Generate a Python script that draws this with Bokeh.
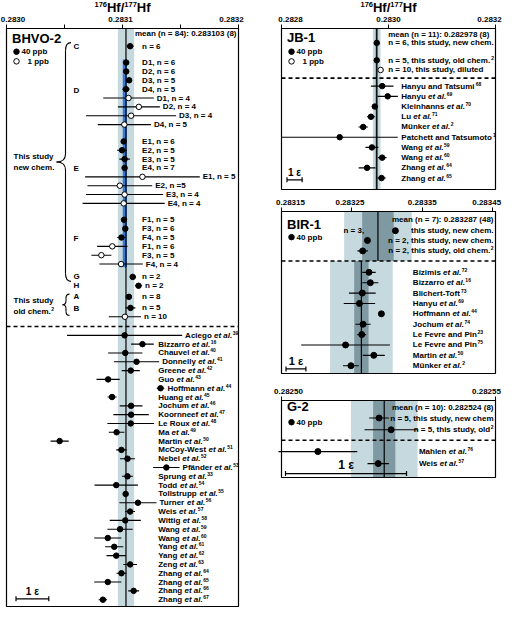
from bokeh.plotting import figure
from bokeh.layouts import row, column
from bokeh.models import (Range1d, FixedTicker, LinearAxis, BoxAnnotation,
                          ColumnDataSource)
from bokeh.core.properties import value
from bokeh.embed import file_html
from bokeh.resources import INLINE

# ------------------------------------------------------------------ data
EPS_UNIT = 0.282785e-4          # 1 epsilon unit (CHUR x 1e-4)
TITLE_PARTS = [("176", True), ("Hf/", False), ("177", True), ("Hf", False)]

# BHVO-2
BHVO_TICKS = [0.2830, 0.2831, 0.2832]
BHVO_MINOR = [0.28305, 0.28315]
BHVO_TICK_LABELS = ["0.2830", "0.2831", "0.2832"]
BHVO_MEAN = 0.283103
BHVO_SD = 0.000007
BHVO_MEAN_TEXT = "mean (n = 84): 0.283103 (8)"
BHVO_NEW_MEAN = 0.283102
BHVO_NEW_ERR = 0.0000018
BHVO_GROUP = ["C"] + ["D"] * 8 + ["E"] * 8 + ["F"] * 6 + ["G", "H", "A", "B", "B"]
BHVO_LABEL = ["n = 6",
              "D1, n = 6", "D2, n = 6", "D3, n = 5", "D4, n = 5",
              "D1, n = 4", "D2, n = 4", "D3, n = 4", "D4, n = 5",
              "E1, n = 6", "E2, n = 5", "E3, n = 5", "E4, n = 7",
              "E1, n = 5", "E2, n =5", "E3, n = 4", "E4, n = 4",
              "F1, n = 5", "F3, n = 6", "F4, n = 5",
              "F1, n = 6", "F3, n = 5", "F4, n = 4",
              "n = 2", "n = 2", "n = 8", "n = 5", "n = 10"]
BHVO_PPB = [40, 40, 40, 40, 40, 1, 1, 1, 1, 40, 40, 40, 40, 1, 1, 1, 1,
            40, 40, 40, 1, 1, 1, 40, 40, 40, 40, 1]
BHVO_VAL = [0.2831066, 0.2831032, 0.2831032, 0.2831057, 0.2831030,
            0.2831052, 0.2831141, 0.2831074, 0.2831016,
            0.2831010, 0.2830996, 0.2831018, 0.2831018,
            0.2831172, 0.2830977, 0.2831018, 0.2831010,
            0.2831013, 0.2831024, 0.2830991,
            0.2830912, 0.2830818, 0.2830988,
            0.2831088, 0.2831138, 0.2831055, 0.2831069, 0.2831021]
BHVO_ERR = [0.0000031, 0.0000008, 0.0000008, 0.0000020, 0.0000031,
            0.0000218, 0.0000181, 0.0000388, 0.0000229,
            0.0000008, 0.0000042, 0.0000045, 0.0000008,
            0.0000494, 0.0000279, 0.0000332, 0.0000354,
            0.0000008, 0.0000008, 0.0000036,
            0.0000131, 0.0000086, 0.0000187,
            0.0000025, 0.0000031, 0.0000011, 0.0000042, 0.0000139]
BHVO_LIT = ["Aciego et al.", "Bizzarro et al.", "Chauvel et al.", "Donnelly et al.",
            "Greene et al.", "Guo et al.", "Hoffmann et al.", "Huang et al.",
            "Jochum et al.", "Koornneef et al.", "Le Roux et al.", "Ma et al.",
            "Martin et al.", "McCoy-West et al.", "Nebel et al.", "Pfänder et al.",
            "Sprung et al.", "Todd et al.", "Tollstrupp et al.", "Turner et al.",
            "Weis et al.", "Wittig et al.", "Wang et al.", "Wang et al.",
            "Yang et al.", "Yang et al.", "Zeng et al.", "Zhang et al.",
            "Zhang et al.", "Zhang et al.", "Zhang et al."]
BHVO_LIT_REF = [39, 16, 40, 41, 42, 43, 44, 45, 46, 47, 48, 49, 50, 51, 52, 53,
                33, 54, 55, 56, 57, 58, 59, 60, 61, 62, 63, 64, 65, 66, 67]
BHVO_LIT_VAL = [0.2831018, 0.2831172, 0.2831024, 0.2831121, 0.2831071, 0.2830876,
                0.2831328, 0.2830910, 0.2831074, 0.2831074, 0.2831071, 0.2830949,
                0.2830458, 0.2830991, 0.2831043, 0.2831378, 0.2831043, 0.2830946,
                0.2831027, 0.2831133, 0.2831066, 0.2831024, 0.2830979, 0.2830873,
                0.2830929, 0.2830946, 0.2831066, 0.2830991, 0.2830873, 0.2831096,
                0.2830831]
BHVO_LIT_ERR = [0.0000496, 0.0000098, 0.0000148, 0.0000195, 0.0000078, 0.0000100,
                0.0000033, 0.0000039, 0.0000098, 0.0000153, 0.0000201, 0.0000067,
                0.0000078, 0.0000045, 0.0000064, 0.0000114, 0.0000047, 0.0000187,
                0.0000008, 0.0000160, 0.0000042, 0.0000134, 0.0000109, 0.0000117,
                0.0000078, 0.0000084, 0.0000059, 0.0000042, 0.0000117, 0.0000047,
                0.0000036]

# JB-1
JB_TICKS = [0.2828, 0.2830, 0.2832]
JB_TICK_LABELS = ["0.2828", "0.2830", "0.2832"]
JB_MEAN = 0.282978
JB_SD = 0.0000072
JB_SE = 0.0000025
JB_MEAN_TEXT = "mean (n = 11): 0.282978 (8)"
JB_LABEL = ["n = 6, this study, new chem.", "n = 5, this study, old chem.",
            "n = 10, this study, diluted"]
JB_SUP = ["", "2", ""]
JB_PPB = [40, 40, 1]
JB_VAL = [0.2829780, 0.2829780, 0.2829852]
JB_ERR = [0.0000010, 0.0000010, 0.0000051]
JB_LIT = ["Hanyu and Tatsumi", "Hanyu et al.", "Kleinhanns et al.", "Lu et al.",
          "Münker et al.", "Patchett and Tatsumoto", "Wang et al.", "Wang et al.",
          "Zhang et al.", "Zhang et al."]
JB_LIT_REF = [68, 69, 70, 71, 2, 1, 59, 60, 64, 65]
JB_LIT_VAL = [0.2829882, 0.2829985, 0.2829744, 0.2829672, 0.2829527, 0.2829088,
              0.2829690, 0.2829882, 0.2829599, 0.2829870]
JB_LIT_ERR = [0.0000211, 0.0000190, 0.0000054, 0.0000075, 0.0000087, 0.0001084,
              0.0000120, 0.0000081, 0.0000157, 0.0000078]

# BIR-1
BIR_TICKS = [0.28315, 0.28325, 0.28335, 0.28345]
BIR_TICK_LABELS = ["0.28315", "0.28325", "0.28335", "0.28345"]
BIR_MEAN = 0.283287
BIR_SD = 0.000048
BIR_SE = 0.0000224
BIR_MEAN_TEXT = "mean (n = 7): 0.283287 (48)"
BIR_LABEL = ["n = 3, this study, new chem.", "n = 2, this study, new chem.",
             "n = 2, this study, old chem."]
BIR_SUP = ["", "", "2"]
BIR_VAL = [0.2833118, 0.2832721, 0.2832653]
BIR_ERR = [0.0000020, 0.0000020, 0.0000074]
BIR_LIT_MEAN = 0.2832635
BIR_LIT_SD = 0.0000445
BIR_LIT_SE = 0.0000102
BIR_LIT = ["Bizimis et al.", "Bizzarro et al.", "Blichert-Toft", "Hanyu et al.",
           "Hoffmann et al.", "Jochum et al.", "Le Fevre and Pin", "Le Fevre and Pin",
           "Martin et al.", "Münker et al."]
BIR_LIT_REF = [72, 16, 73, 69, 44, 74, 23, 75, 50, 2]
BIR_LIT_VAL = [0.2832743, 0.2832762, 0.2832648, 0.2832607, 0.2832919, 0.2832658,
               0.2832640, 0.2832410, 0.2832811, 0.2832486]
BIR_LIT_ERR = [0.0000095, 0.0000113, 0.0000190, 0.0000223, 0.0000020, 0.0000108,
               0.0000063, 0.0000630, 0.0000156, 0.0000113]

# G-2
G2_TICKS = [0.28250, 0.28255]
G2_TICK_LABELS = ["0.28250", "0.28255"]
G2_MEAN = 0.282524
G2_SD = 0.0000078
G2_SE = 0.0000026
G2_MEAN_TEXT = "mean (n = 10): 0.282524 (8)"
G2_LABEL = ["n = 5, this study, new chem", "n = 5, this study, old"]
G2_SUP = ["", "2"]
G2_VAL = [0.2825228, 0.2825256]
G2_ERR = [0.0000023, 0.0000062]
G2_LIT = ["Mahlen et al.", "Weis et al."]
G2_LIT_REF = [76, 57]
G2_LIT_VAL = [0.2825085, 0.2825226]
G2_LIT_ERR = [0.0000092, 0.0000025]

# ------------------------------------------------------------------ style
FONT = "Liberation Sans"
FS = 8
SUP_FS = 5
TICK_FS = 8
LIGHT = "#c6d9de"
DARK = "#7f99a3"
BLUE = "#3b78d2"

W = {' ': 278, '!': 333, ',': 278, '-': 333, '.': 278, '/': 278, ':': 333, '(': 333,
     ')': 333, '=': 584,
     'A': 722, 'B': 722, 'C': 722, 'D': 722, 'E': 667, 'F': 611, 'G': 778, 'H': 722,
     'I': 278, 'J': 556, 'K': 722, 'L': 611, 'M': 833, 'N': 722, 'O': 778, 'P': 667,
     'Q': 778, 'R': 722, 'S': 667, 'T': 611, 'U': 722, 'V': 667, 'W': 944, 'X': 667,
     'Y': 667, 'Z': 611,
     'a': 556, 'b': 611, 'c': 556, 'd': 611, 'e': 556, 'f': 333, 'g': 611, 'h': 611,
     'i': 278, 'j': 278, 'k': 556, 'l': 278, 'm': 889, 'n': 611, 'o': 611, 'p': 611,
     'q': 611, 'r': 389, 's': 556, 't': 333, 'u': 611, 'v': 556, 'w': 778, 'x': 556,
     'y': 556, 'z': 500, 'ä': 556, 'ü': 611}


def tw(s, fs=FS):
    return sum(W.get(c, 556) for c in s) * fs / 1000.0


class Panel:
    """One panel; the Bokeh frame covers the whole canvas, the data box sits inside."""

    def __init__(self, W_, H_, box, xs, xe, yt, yb):
        bx0, bx1, by0, by1 = box
        self.box = box
        self.xs, self.xe, self.yt, self.yb = xs, xe, yt, yb
        self.ppx = (bx1 - bx0) / (xe - xs)
        self.ppy = (by1 - by0) / (yb - yt)
        xr = Range1d(xs - bx0 / self.ppx, xe + (W_ - bx1) / self.ppx)
        yr = Range1d(yb + (H_ - by1) / self.ppy, yt - by0 / self.ppy)
        p = figure(width=W_, height=H_, x_range=xr, y_range=yr,
                   x_axis_location=None, y_axis_location=None,
                   toolbar_location=None, output_backend="svg", min_border=0,
                   background_fill_color="white", border_fill_color="white",
                   outline_line_color=None)
        p.xgrid.visible = False
        p.ygrid.visible = False
        self.p = p

    def bx(self, px):          # px from box left -> data x
        return self.xs + px / self.ppx

    def cy(self, px):          # canvas px from top -> data y
        return self.yt - (self.box[2] - px) / self.ppy

    def dy(self, px):
        return px / self.ppy

    def frame_box(self):
        self.p.quad(left=[self.xs], right=[self.xe], top=[self.yt], bottom=[self.yb],
                    fill_color=None, line_color="black", line_width=1.2)

    def axis(self, ticks, minor, labels, offsets, title=False):
        ax = LinearAxis(fixed_location=self.yt,
                        ticker=FixedTicker(ticks=ticks, minor_ticks=minor),
                        bounds=(self.xs - 1e-9, self.xe + 1e-9),
                        major_label_text_color=None, axis_line_color="black",
                        major_tick_line_color="black", minor_tick_line_color="black",
                        major_tick_out=4, major_tick_in=0, minor_tick_out=4,
                        minor_tick_in=0)
        self.p.add_layout(ax, "above")
        top = self.box[2]
        ly = self.cy(top - 9.5)
        self.text(ticks, [ly] * len(ticks), labels, size=TICK_FS, align="center",
                  xo=offsets)
        if title:
            xc = (self.xs + self.xe) / 2
            sizes = [7.5 if sup else 13 for _, sup in TITLE_PARTS]
            widths = [tw(t, s) for (t, _), s in zip(TITLE_PARTS, sizes)]
            x0 = -sum(widths) / 2
            mid = self.cy(top - 21)
            for (t, sup), s, w in zip(TITLE_PARTS, sizes, widths):
                self.text([xc], [mid], [t], size=s, xo=[x0], yo=[-3.5 if sup else 0])
                x0 += w

    def text(self, xs, ys, ts, size=FS, style="bold", align="left", xo=None, yo=None,
             baseline="middle"):
        n = len(ts)
        xo = xo if xo is not None else [0] * n
        yo = yo if yo is not None else [0] * n
        src = ColumnDataSource(dict(x=xs, y=ys, t=ts, xo=xo, yo=yo))
        self.p.text(x="x", y="y", text="t", x_offset="xo", y_offset="yo", source=src,
                    text_font=value(FONT), text_font_size=f"{size}px",
                    text_font_style=style, text_align=align, text_baseline=baseline,
                    text_color="black")

    def points(self, xs, ys, errs, filled, size=5.5):
        lo = [x - e for x, e in zip(xs, errs)]
        hi = [x + e for x, e in zip(xs, errs)]
        self.p.segment(x0=lo, y0=ys, x1=hi, y1=ys, line_color="black", line_width=1.1)
        fills = ["black" if f else "white" for f in filled]
        self.p.scatter(x=xs, y=ys, size=size, marker="circle", fill_color=fills,
                       line_color="black", line_width=1)

    def band(self, center, half, color, y0=None, y1=None):
        self.p.add_layout(BoxAnnotation(
            left=center - half, right=center + half,
            top=self.yt if y0 is None else y0, bottom=self.yb if y1 is None else y1,
            fill_color=color, fill_alpha=1.0, line_color=None, level="underlay"))

    def vline(self, x, y0=None, y1=None):
        self.p.segment(x0=[x], y0=[self.yt if y0 is None else y0], x1=[x],
                       y1=[self.yb if y1 is None else y1], line_color="black",
                       line_width=1.2)

    def dashed(self, y):
        self.p.segment(x0=[self.xs], y0=[y], x1=[self.xe], y1=[y], line_color="black",
                       line_width=1.6, line_dash="4 3")

    def lit_labels(self, xs, ys, names, refs):
        base, etal, sup, xo_e, xo_s = [], [], [], [], []
        for nm, rf in zip(names, refs):
            if nm.endswith(" et al."):
                b = nm[:-len(" et al.")]
                base.append(b)
                etal.append("et al.")
                xo_e.append(tw(b + " "))
            else:
                base.append(nm)
                etal.append("")
                xo_e.append(0)
            xo_s.append(tw(nm) + 0.5)
            sup.append(str(rf))
        self.text(xs, ys, base)
        self.text(xs, ys, etal, style="bold italic", xo=xo_e)
        self.text(xs, ys, sup, size=SUP_FS, xo=xo_s, yo=[-2.5] * len(sup))

    def scalebar(self, inset_px, y, label_size=10):
        x0 = self.bx(inset_px)
        x1 = x0 + EPS_UNIT
        c = self.dy(2.5)
        self.p.segment(x0=[x0, x0, x1], y0=[y, y - c, y - c], x1=[x1, x0, x1],
                       y1=[y, y + c, y + c], line_color="black", line_width=1.2)
        self.text([(x0 + x1) / 2], [y], ["1 ε"], size=label_size, align="center",
                  yo=[-2], baseline="bottom")

    def legend(self, title, title_y, y40, y1=None):
        self.text([self.bx(5.5)], [title_y], [title], size=13)
        mx = self.bx(10)
        self.p.scatter(x=[mx], y=[y40], size=5.5, marker="circle", fill_color="black",
                       line_color="black")
        self.text([self.bx(15)], [y40], ["40 ppb"])
        if y1 is not None:
            self.p.scatter(x=[mx], y=[y1], size=5.5, marker="circle",
                           fill_color="white", line_color="black", line_width=1)
            self.text([self.bx(21)], [y1], ["1 ppb"])

    def right_text(self, ys, ts, sups, pad=2):
        n = len(ts)
        supw = [tw(s, SUP_FS) + 0.5 if s else 0 for s in sups]
        self.text([self.xe] * n, ys, ts, align="right", xo=[-pad - w for w in supw])
        self.text([self.xe] * n, ys, sups, size=SUP_FS, align="right",
                  xo=[-pad] * n, yo=[-2.5] * n)


def brace(pn, xe, xm, xt, y0, y1, r):
    p = pn.p
    ym = (y0 + y1) / 2
    p.quadratic(x0=[xe, xm, xt, xm], y0=[y0, ym - r, ym, y1 - r],
                x1=[xm, xt, xm, xe], y1=[y0 + r, ym, ym + r, y1],
                cx=[xm, xm, xm, xm], cy=[y0, ym, ym, y1], line_color="black",
                line_width=1.1)
    p.segment(x0=[xm, xm], y0=[y0 + r, ym + r], x1=[xm, xm], y1=[ym - r, y1 - r],
              line_color="black", line_width=1.1)


# ================================================================== BHVO-2
GAP = {("C", "D"): 1.85, ("D", "E"): 1.9, ("E", "F"): 1.85, ("F", "G"): 1.45,
       ("G", "H"): 1.0, ("H", "A"): 1.25, ("A", "B"): 1.25}
bhvo_y = [0.0]
for i in range(1, len(BHVO_GROUP)):
    g0, g1 = BHVO_GROUP[i - 1], BHVO_GROUP[i]
    bhvo_y.append(bhvo_y[-1] + (1.0 if g0 == g1 else GAP[(g0, g1)]))
bhvo_dash = bhvo_y[-1] + 1.1
bhvo_lit_y = [bhvo_y[-1] + 2.1 + 0.995 * i for i in range(len(BHVO_LIT))]

L = Panel(258, 609, (6, 238, 28, 606), 0.2830, 0.2832, -2.0, 63.27)
L.band(BHVO_MEAN, BHVO_SD, LIGHT)
d_rows = [y for y, g in zip(bhvo_y, BHVO_GROUP) if g in ("D", "E", "F")]
L.band(BHVO_NEW_MEAN, BHVO_NEW_ERR, BLUE, min(d_rows) - 0.35, max(d_rows) + 0.35)
L.vline(BHVO_MEAN)
L.dashed(bhvo_dash)
L.frame_box()
L.axis(BHVO_TICKS, BHVO_MINOR, BHVO_TICK_LABELS, [6.5, -2, -7], title=True)
L.points(BHVO_VAL, bhvo_y, BHVO_ERR, [p == 40 for p in BHVO_PPB])
L.points(BHVO_LIT_VAL, bhvo_lit_y, BHVO_LIT_ERR, [True] * len(BHVO_LIT))
pad = 3.0 / L.ppx
new_base = 0.2831169
lit_base = 0.2831308
L.text([max(new_base, v + e + pad) for v, e in zip(BHVO_VAL, BHVO_ERR)], bhvo_y, BHVO_LABEL)
L.lit_labels([max(lit_base, v + e + pad) for v, e in zip(BHVO_LIT_VAL, BHVO_LIT_ERR)],
             bhvo_lit_y, BHVO_LIT, BHVO_LIT_REF)
L.text([L.xe], [-1.4], [BHVO_MEAN_TEXT], align="right", xo=[-2])
L.legend("BHVO-2", -0.92, 0.62, 1.71)
groups = []
for g in BHVO_GROUP:
    if g not in groups:
        groups.append(g)
gx, gy = [], []
for g in groups:
    ys = [y for y, gg in zip(bhvo_y, BHVO_GROUP) if gg == g]
    gy.append(sum(ys) / len(ys) - (0.4 if len(ys) > 1 else 0))
    gx.append(L.bx(67))
L.text(gx, gy, groups)
new_rows = [y for y, g in zip(bhvo_y, BHVO_GROUP) if g in ("C", "D", "E", "F", "G", "H")]
old_rows = [y for y, g in zip(bhvo_y, BHVO_GROUP) if g in ("A", "B")]
b0, b1 = new_rows[0] - 0.4, new_rows[-1] - 0.5
brace(L, L.bx(64.5), L.bx(59), L.bx(50), b0, b1, 0.9)
s0, s1 = old_rows[0] - 0.3, old_rows[1] + 0.85
brace(L, L.bx(63), L.bx(59.5), L.bx(56), s0, s1, 0.45)
bm = (b0 + b1) / 2
sm = (s0 + s1) / 2 + 0.15
L.text([L.bx(7)] * 4, [bm - 0.6, bm + 0.6, sm - 0.6, sm + 0.6],
       ["This study", "new chem.", "This study", "old chem."])
L.text([L.bx(7)], [sm + 0.6], ["2"], size=SUP_FS, xo=[tw("old chem.") + 0.5], yo=[-2.5])
L.scalebar(9.5, 62.4, 10)

# ================================================================== JB-1
jb_y = [0.0, 1.7, 2.65]
jb_dash = 3.45
jb_lit_y = [4.23 + i for i in range(len(JB_LIT))]
J = Panel(246, 196, (23, 237, 28, 189), 0.2828, 0.2832, -1.41, 14.35)
J.band(JB_MEAN, JB_SD, LIGHT)
J.band(JB_MEAN, JB_SE, DARK)
J.vline(JB_MEAN)
J.dashed(jb_dash)
J.frame_box()
J.axis(JB_TICKS, [], JB_TICK_LABELS, [9, 0, -6], title=True)
J.points(JB_VAL, jb_y, JB_ERR, [p == 40 for p in JB_PPB])
J.points(JB_LIT_VAL, jb_lit_y, JB_LIT_ERR, [True] * len(JB_LIT))
jb_txt_x = 0.2829995
J.text([jb_txt_x], [-0.86], [JB_MEAN_TEXT])
J.text([jb_txt_x] * 3, jb_y, JB_LABEL)
J.text([jb_txt_x] * 3, jb_y, JB_SUP, size=SUP_FS,
       xo=[tw(t) + 0.5 for t in JB_LABEL], yo=[-2.5] * 3)
J.lit_labels([0.2830240] * len(JB_LIT), jb_lit_y, JB_LIT, JB_LIT_REF)
J.legend("JB-1", -0.5, 0.86, 1.81)
J.scalebar(5.5, 13.4, 10)

# ================================================================== BIR-1
bir_y = [0.0, 0.94, 1.95]
bir_dash = 2.92
bir_lit_y = [4.02 + 1.003 * i for i in range(len(BIR_LIT))]
B = Panel(246, 190, (23, 237, 15, 177), 0.28315, 0.283454, -1.86, 13.8)
B.band(BIR_MEAN, BIR_SD, LIGHT, B.yt, bir_dash)
B.band(BIR_MEAN, BIR_SE, DARK, B.yt, bir_dash)
B.band(BIR_LIT_MEAN, BIR_LIT_SD, LIGHT, bir_dash, B.yb)
B.band(BIR_LIT_MEAN, BIR_LIT_SE, DARK, bir_dash, B.yb)
B.vline(BIR_MEAN, B.yt, bir_dash)
B.vline(BIR_LIT_MEAN, bir_dash, B.yb)
B.dashed(bir_dash)
B.frame_box()
B.axis(BIR_TICKS, [], BIR_TICK_LABELS, [9, -2, 0, -6])
B.points(BIR_VAL, bir_y, BIR_ERR, [True] * 3, 6)
B.points(BIR_LIT_VAL, bir_lit_y, BIR_LIT_ERR, [True] * len(BIR_LIT), 6)
B.text([B.xe], [-1.1], [BIR_MEAN_TEXT], align="right", xo=[-2])
lab_main = []
for v, y, t, s in zip(BIR_VAL, bir_y, BIR_LABEL, BIR_SUP):
    start_px = (B.xe - B.xs) * B.ppx - 2 - tw(t) - (tw(s, SUP_FS) if s else 0)
    mark_px = (v - B.xs) * B.ppx
    if start_px < mark_px and ", " in t:
        k = t.index(", ")
        B.text([BIR_MEAN - BIR_SE], [y], [t[:k + 1]], align="right", xo=[2])
        t = t[k + 2:]
    lab_main.append(t)
B.right_text(bir_y, lab_main, BIR_SUP)
B.lit_labels([0.2833366] * len(BIR_LIT), bir_lit_y, BIR_LIT, BIR_LIT_REF)
B.legend("BIR-1", -0.63, 0.62)
B.scalebar(4.5, 13.36, 11)

# ================================================================== G-2
g2_y = [0.0, 0.98]
g2_dash = 1.85
g2_lit_y = [2.8, 3.8]
G = Panel(246, 100, (23, 237, 14, 91), 0.28250, 0.28255, -1.46, 4.96)
G.band(G2_MEAN, G2_SD, LIGHT)
G.band(G2_MEAN, G2_SE, DARK)
G.vline(G2_MEAN)
G.dashed(g2_dash)
G.frame_box()
G.axis(G2_TICKS, [], G2_TICK_LABELS, [7, -9])
G.points(G2_VAL, g2_y, G2_ERR, [True] * 2, 6)
G.points(G2_LIT_VAL, g2_lit_y, G2_LIT_ERR, [True] * 2, 6)
G.text([G.xe], [-0.87], [G2_MEAN_TEXT], align="right", xo=[-2])
G.right_text(g2_y, G2_LABEL, G2_SUP)
G.lit_labels([0.2825321] * 2, g2_lit_y, G2_LIT, G2_LIT_REF)
G.legend("G-2", -0.95, 0.35)
G.scalebar(4, 4.63, 12)

layout = row(L.p, column(J.p, B.p, G.p))
open("out.html", "w").write(file_html(layout, INLINE))
